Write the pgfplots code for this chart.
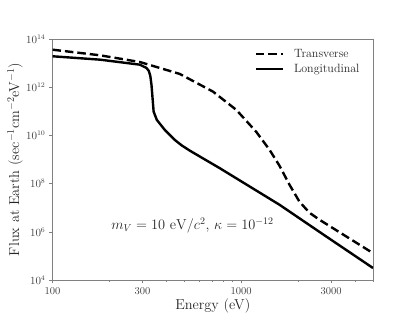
\documentclass[border=0pt]{standalone}
\usepackage{pgfplots}
\pgfplotsset{compat=1.18}

\begin{document}
\begin{tikzpicture}
\begin{axis}[
  xmode=log, ymode=log,
  scale only axis, width=320.5pt, height=241pt,
  xmin=100, xmax=5000, ymin=1e4, ymax=1e14,
  xtick={100,300,1000,3000}, xticklabels={100,300,1000,3000},
  minor xtick={200,400,500,600,700,800,900,2000,4000,5000},
  ytick={1e4,1e6,1e8,1e10,1e12,1e14},
  yminorticks=false,
  tick pos=left,
  axis line style={gray},
  every tick/.style={gray},
  tick align=outside, major tick length=3.5pt, minor tick length=2pt,
  tick label style={font=\fontsize{10.5}{12}\selectfont, text=black!75},
  label style={font=\fontsize{14.4}{17}\selectfont, text=black!85},
  xlabel={Energy (eV)},
  ylabel={Flux at Earth (sec$^{-1}$cm$^{-2}$eV$^{-1}$)},
  xlabel style={at={(axis description cs:0.5,-0.108)}, anchor=center},
  ylabel style={at={(axis description cs:-0.117,0.5)}, anchor=center},
  legend style={draw=none, fill=none, at={(rel axis cs:0.974,0.975)}, anchor=north east,
    font=\fontsize{12}{14}\selectfont, row sep=1.5pt, text=black!85,
    /tikz/every odd column/.append style={column sep=8pt}},
  legend cell align=left,
  legend image code/.code={\draw[#1] (0pt,0pt) -- (27pt,0pt);},
]
% transverse mode
\addplot[black, mark=none, line width=2.4pt, dash pattern=on 8.5pt off 4pt] coordinates {
  (100,3.6e13) (178.4,2.11e13) (290.4,1.11e13) (472.7,3.55e12) (709.4,6.55e11)
  (943.2,1.14e11) (1203,1.40e10) (1415,2.51e9) (1598,5.46e8) (1805,8.9e7)
  (2039,1.76e7) (2304,6.15e6) (2602,3.16e6) (3320,9.6e5) (5000,1.3e5)
};
\addlegendentry{Transverse}
% longitudinal mode
\addplot[black, mark=none, line width=2.4pt, line join=round] coordinates {
  (100,1.92e13) (178.4,1.39e13) (290.4,8.6e12) (315.1,6.28e12) (324.0,4.72e12)
  (330.0,2.93e12) (334.8,1.24e12) (338.1,4.78e11) (341.4,1.84e11) (343.6,9.7e10)
  (357.3,4.4e10) (393.8,1.69e10) (444.7,6.5e9) (484,3.86e9) (534.0,2.34e9)
  (641,1.01e9) (769.6,4.38e8) (1598,1.32e7) (2824,6.4e5) (5000,3.14e4)
};
\addlegendentry{Longitudinal}
\node[font=\fontsize{14.4}{17}\selectfont, text=black!85] at (axis cs:552,1.78e6)
  {$m_V = 10~\mathrm{eV}/c^2$, $\kappa = 10^{-12}$};
\end{axis}
\pgfresetboundingbox
\path ([shift={(-52.5pt,-41pt)}]current axis.south west) rectangle ([shift={(42pt,39pt)}]current axis.north east);
\end{tikzpicture}
\end{document}
